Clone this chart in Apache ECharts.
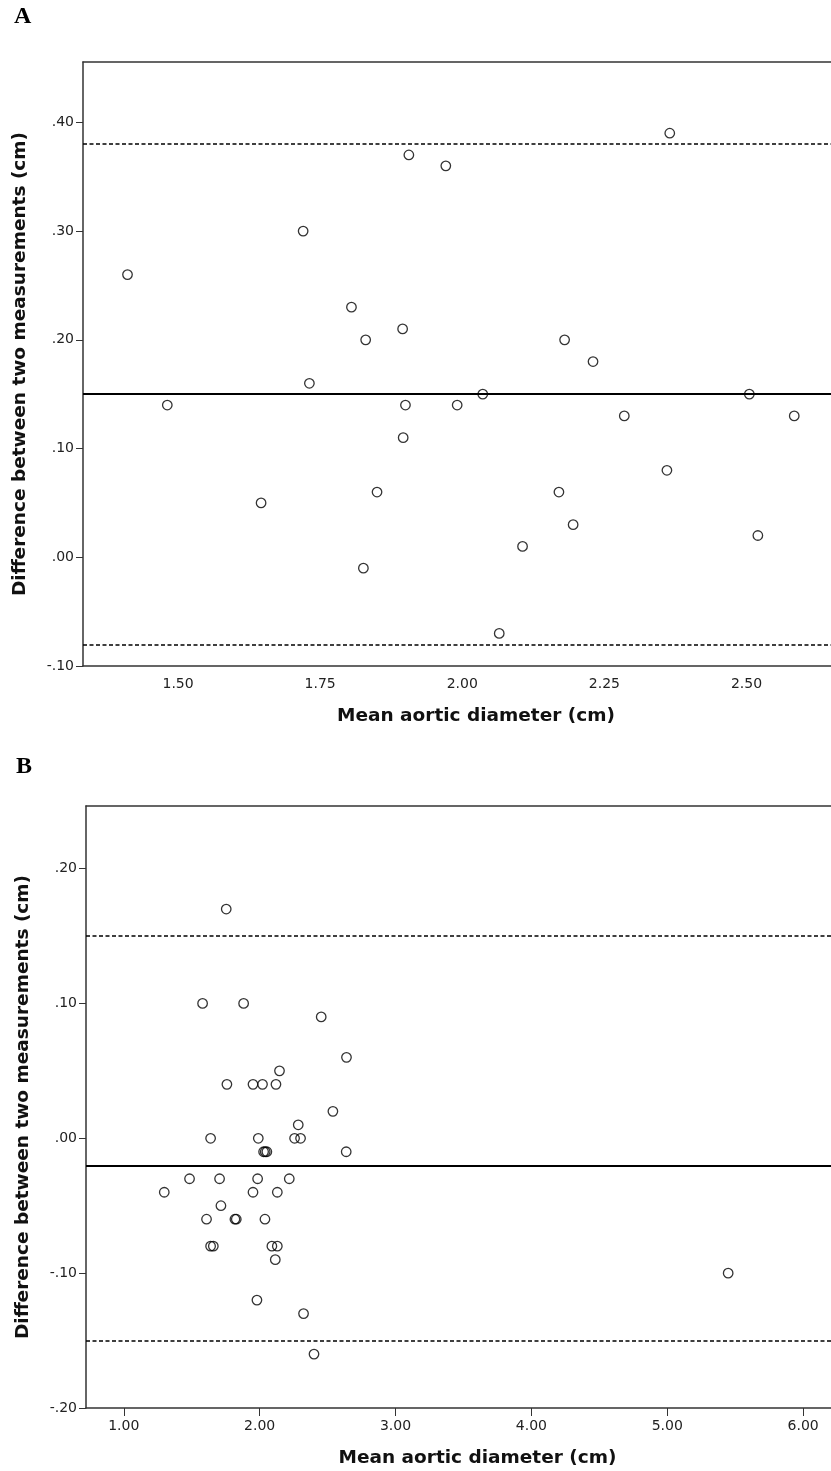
<!DOCTYPE html>
<html>
<head>
<meta charset="utf-8">
<script src="https://cdn.jsdelivr.net/npm/echarts@6/dist/echarts.min.js"></script>
<style>
html,body{margin:0;padding:0;background:#fff;}
#chart{width:831px;height:1471px;}
</style>
</head>
<body>
<div id="chart"></div>
<script>
// ---- Panel A data ----
const meanA_x = [1.411,1.481,1.646,1.720,1.731,1.805,1.826,1.830,1.850,1.895,1.896,1.900,1.906,1.971,1.991,2.036,2.065,2.106,2.170,2.180,2.195,2.230,2.285,2.360,2.365,2.505,2.520,2.584];
const diffA   = [0.26, 0.14, 0.05, 0.30, 0.16, 0.23, -0.01,0.20, 0.06, 0.21, 0.11, 0.14, 0.37, 0.36, 0.14, 0.15, -0.07,0.01, 0.06, 0.20, 0.03, 0.18, 0.13, 0.08, 0.39, 0.15, 0.02, 0.13];
const biasA = 0.15;
const limitsA = [0.38, -0.08];
const xTicksA = [1.50, 1.75, 2.00, 2.25, 2.50];
const yTicksA = [-0.10, 0.00, 0.10, 0.20, 0.30, 0.40];

// ---- Panel B data ----
const meanB_x = [1.754,1.580,1.882,2.453,2.639,2.146,1.759,1.951,2.021,2.120,2.539,2.284,1.639,1.990,2.257,2.301,
                 2.029,2.041,2.053,2.637,1.484,1.705,1.985,2.218,1.298,1.951,2.130,1.715,1.609,1.818,1.828,2.039,
                 1.639,1.659,2.090,2.130,2.115,1.980,2.323,2.400,5.448];
const diffB   = [0.17, 0.10, 0.10, 0.09, 0.06, 0.05, 0.04, 0.04, 0.04, 0.04, 0.02, 0.01, 0.00, 0.00, 0.00, 0.00,
                 -0.01,-0.01,-0.01,-0.01,-0.03,-0.03,-0.03,-0.03,-0.04,-0.04,-0.04,-0.05,-0.06,-0.06,-0.06,-0.06,
                 -0.08,-0.08,-0.08,-0.08,-0.09,-0.12,-0.13,-0.16,-0.10];
const biasB = -0.02;
const limitsB = [0.15, -0.15];
const xTicksB = [1.00, 2.00, 3.00, 4.00, 5.00, 6.00];
const yTicksB = [-0.20, -0.10, 0.00, 0.10, 0.20];

const panelLabels = ['A', 'B'];
const xTitle = 'Mean aortic diameter (cm)';
const yTitle = 'Difference between two measurements (cm)';

const fmtY = v => (v < 0 ? '-' : '') + Math.abs(v).toFixed(2).replace(/^0/, '');
const fmtX = v => v.toFixed(2);

const AX = '#333';
const tickFont = {fontFamily: 'DejaVu Sans', fontSize: 14, color: '#222'};
const titleFont = {fontFamily: 'DejaVu Sans', fontSize: 18.5, fontWeight: 'bold', color: '#111'};

function xAxisCfg(gi, min, max, ticks, showTicks) {
  return {
    type: 'value', gridIndex: gi, min: min, max: max, position: 'bottom',
    splitLine: {show: false},
    axisLine: {show: true, onZero: false, lineStyle: {color: AX, width: 1.5}},
    axisTick: {show: showTicks, length: 8, customValues: ticks, lineStyle: {color: AX, width: 1}},
    axisLabel: {show: true, customValues: ticks, formatter: fmtX, margin: 11, ...tickFont},
    name: xTitle, nameLocation: 'middle', nameGap: 41,
    nameTextStyle: {...titleFont, padding: [0, 0, 0, 38]}
  };
}
// frame line along the top of each plot
function topFrame(gi, min, max) {
  return {
    type: 'value', gridIndex: gi, min: min, max: max, position: 'top',
    splitLine: {show: false}, axisTick: {show: false}, axisLabel: {show: false},
    axisLine: {show: true, onZero: false, lineStyle: {color: AX, width: 1.5}}
  };
}
function yAxisCfg(gi, min, max, ticks) {
  return {
    type: 'value', gridIndex: gi, min: min, max: max,
    splitLine: {show: false},
    axisLine: {show: true, onZero: false, lineStyle: {color: AX, width: 1.5}},
    axisTick: {show: true, length: 7, customValues: ticks, lineStyle: {color: AX, width: 1}},
    axisLabel: {show: true, customValues: ticks, formatter: fmtY, margin: 9, ...tickFont},
    name: yTitle, nameLocation: 'middle', nameGap: 53, nameRotate: 90,
    nameTextStyle: titleFont
  };
}
function refLines(bias, limits) {
  return {
    silent: true, symbol: 'none', label: {show: false}, animation: false,
    data: [
      {yAxis: bias, lineStyle: {type: 'solid', color: '#000', width: 2}},
      {yAxis: limits[0], lineStyle: {type: [4, 2.5], color: '#000', width: 1.5}},
      {yAxis: limits[1], lineStyle: {type: [4, 2.5], color: '#000', width: 1.5}}
    ]
  };
}
function pts(xs, ys) { return xs.map((x, i) => [x, ys[i]]); }

const wA = 748, wB = 745;
const xMinA = 1.3327, xMaxA = 1.3327 + wA / 568.4;
const xMinB = 0.722, xMaxB = 0.722 + wB / 135.88;

const chart = echarts.init(document.getElementById('chart'), null, {renderer: 'canvas'});
chart.setOption({
  animation: false,
  backgroundColor: '#fff',
  grid: [
    {left: 83, top: 62, width: wA, height: 604, show: false},
    {left: 86, top: 806, width: wB, height: 602, show: false}
  ],
  xAxis: [xAxisCfg(0, xMinA, xMaxA, xTicksA, false), xAxisCfg(1, xMinB, xMaxB, xTicksB, true),
          topFrame(0, xMinA, xMaxA), topFrame(1, xMinB, xMaxB)],
  yAxis: [yAxisCfg(0, -0.10, 0.4555, yTicksA), yAxisCfg(1, -0.20, 0.2464, yTicksB)],
  graphic: [
    {type: 'text', left: 14, top: 5, style: {text: panelLabels[0], font: 'bold 24px "Liberation Serif"', fill: '#000'}},
    {type: 'text', left: 16, top: 755, style: {text: panelLabels[1], font: 'bold 24px "Liberation Serif"', fill: '#000'}}
  ],
  series: [
    {
      type: 'scatter', xAxisIndex: 0, yAxisIndex: 0, data: pts(meanA_x, diffA),
      symbol: 'circle', symbolSize: 9.5,
      itemStyle: {color: 'rgba(0,0,0,0)', borderColor: '#000', borderWidth: 1.3},
      markLine: refLines(biasA, limitsA), z: 3
    },
    {
      type: 'scatter', xAxisIndex: 1, yAxisIndex: 1, data: pts(meanB_x, diffB),
      symbol: 'circle', symbolSize: 9.5,
      itemStyle: {color: 'rgba(0,0,0,0)', borderColor: '#000', borderWidth: 1.3},
      markLine: refLines(biasB, limitsB), z: 3
    }
  ]
});
</script>
</body>
</html>
